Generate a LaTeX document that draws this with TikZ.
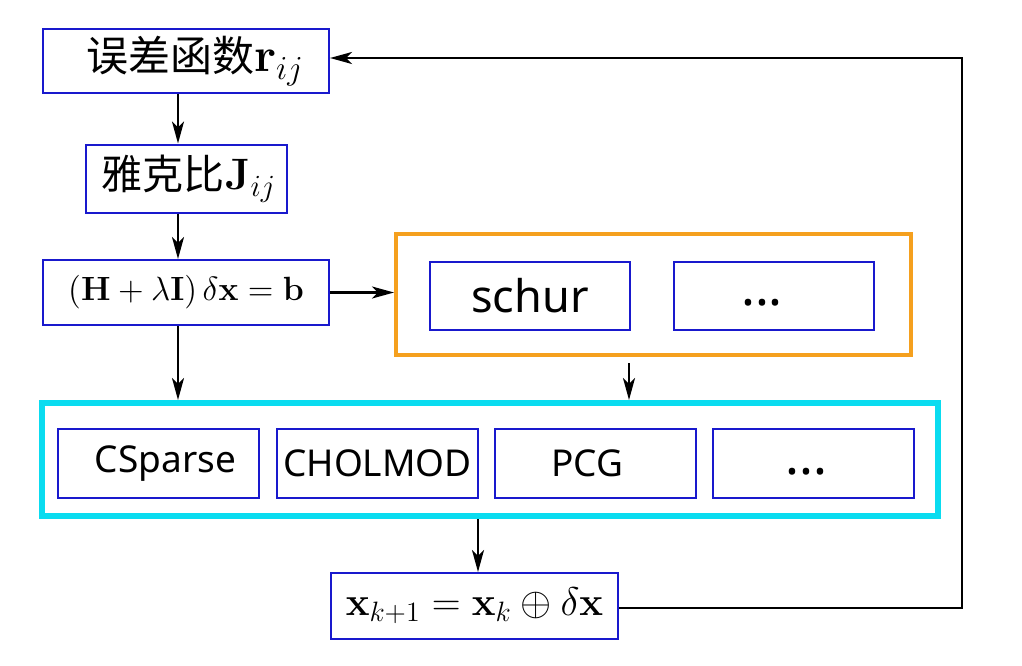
\RequirePackage{fix-cm}
\documentclass[tikz,border=0pt]{standalone}
\usepackage[no-math]{fontspec}
\setmainfont{Noto Sans}
\newfontfamily\cjk{Noto Sans CJK SC}
\usetikzlibrary{arrows.meta}
\definecolor{boxblue}{RGB}{25,25,205}
\definecolor{boxorange}{RGB}{245,160,30}
\definecolor{boxcyan}{RGB}{10,220,240}
\begin{document}
\begin{tikzpicture}[x=0.5pt,y=-0.5pt,
  bluebox/.style={draw=boxblue, line width=1pt, inner sep=0pt, text=black},
  arr/.style={-{Stealth[length=11pt,width=6pt,inset=3pt]}, line width=1.3pt},
  solver/.style={bluebox, minimum width=100.5pt, minimum height=34.5pt, font=\fontsize{18.5pt}{22pt}\selectfont}]
\useasboundingbox (0,0) rectangle (1022,665);

\node[bluebox, font=\fontsize{21pt}{25pt}\selectfont, minimum width=143pt, minimum height=32pt] (err) at (186,61)
  {\hspace{9pt}{\cjk 误差函数}{\fontsize{24pt}{28pt}\selectfont$\mathbf{r}_{ij}$}};
\node[bluebox, font=\fontsize{20.5pt}{24pt}\selectfont, minimum width=100.5pt, minimum height=34pt] (jac) at (186,178.5)
  {\hspace{3pt}{\cjk 雅克比}{\fontsize{22pt}{26pt}\selectfont$\mathbf{J}_{ij}$}};
\node[bluebox, font=\fontsize{16.8pt}{20pt}\selectfont, minimum width=143pt, minimum height=32.5pt] (eq) at (186,292.5)
  {$(\mathbf{H}+\lambda\mathbf{I})\,\delta\mathbf{x}=\mathbf{b}$};

\node[draw=boxorange, line width=2pt, minimum width=257.5pt, minimum height=60.5pt, inner sep=0pt] (orange) at (653.5,294.5) {};
\node[bluebox, minimum width=100pt, minimum height=34pt, font=\fontsize{22.5pt}{26pt}\selectfont] (schur) at (530,296) {schur};
\node[bluebox, minimum width=100pt, minimum height=34pt, text height=9.5pt, text depth=0pt, font=\fontsize{26pt}{30pt}\selectfont\bfseries] (dotsA) at (774,296) {...\kern12pt};

\node[draw=boxcyan, line width=3pt, minimum width=448pt, minimum height=56.5pt, inner sep=0pt] (cyan) at (490,459.5) {};
\node[solver] (cs) at (158.5,463.5) {\hspace{7pt}CSparse};
\node[solver] (ch) at (377.5,463.5) {CHOLMOD};
\node[solver] (pcg) at (595.5,463.5) {PCG\kern8pt};
\node[solver, text height=10.5pt, text depth=0pt, font=\fontsize{26pt}{30pt}\selectfont\bfseries] (dotsB) at (813.5,463.5) {...\kern7pt};

\node[bluebox, font=\fontsize{20pt}{24pt}\selectfont, minimum width=143.5pt, minimum height=33pt] (upd) at (474.5,606)
  {$\mathbf{x}_{k+1}=\mathbf{x}_k\oplus\delta\mathbf{x}$};

\coordinate (ax) at (178,0);
\coordinate (bx) at (629,0);
\coordinate (cx) at (478,0);
\coordinate (c1) at (962,608);
\coordinate (c2) at (962,58);

\draw[arr] (err.south -| ax) -- (jac.north -| ax);
\draw[arr] (jac.south -| ax) -- (eq.north -| ax);
\draw[arr] (eq.south -| ax) -- (cyan.north -| ax);
\draw[arr] (eq.east) -- (eq.east -| orange.west);
\draw[arr, shorten <=3pt] (orange.south -| bx) -- (cyan.north -| bx);
\draw[arr] (cyan.south -| cx) -- (upd.north -| cx);
\draw[arr] (upd.east |- c1) -- (c1) -- (c2) -- (err.east |- c2);
\end{tikzpicture}
\end{document}
